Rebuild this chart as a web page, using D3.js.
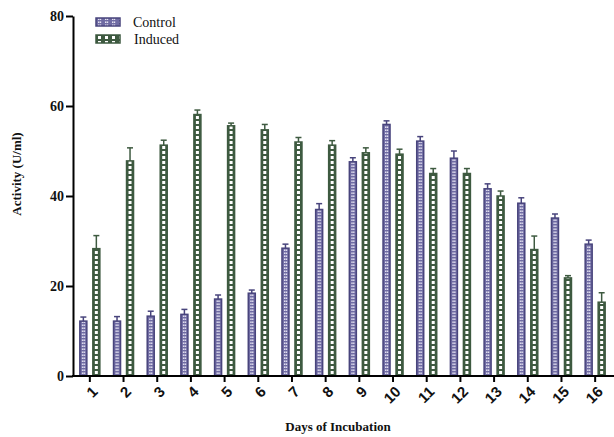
<!DOCTYPE html>
<html lang="en">
<head>
  <meta charset="UTF-8">
  <title>Activity by day of incubation</title>
  <script src="https://d3js.org/d3.v7.min.js"></script>
  <style>
    body { margin: 0; background: #fff; }
    .tick-x text { font-family: "Liberation Sans", Arial, sans-serif; font-size: 15px; font-weight: bold; fill: #111; }
    .tick-y text { font-family: "Liberation Serif", "Times New Roman", serif; font-size: 14px; font-weight: bold; fill: #111; }
    .title { font-family: "Liberation Serif", "Times New Roman", serif; font-size: 13px; font-weight: bold; fill: #111; }
    .legend text { font-family: "Liberation Serif", "Times New Roman", serif; font-size: 14px; fill: #111; }
  </style>
</head>
<body>
<div id="chart"></div>
<script>
// data
var days = ["1","2","3","4","5","6","7","8","9","10","11","12","13","14","15","16"];
var series = ["Control", "Induced"];
var controlValues = [12.2, 12.2, 13.3, 13.7, 17.1, 18.4, 28.4, 37.0, 47.6, 55.9, 52.2, 48.4, 41.6, 38.4, 35.1, 29.3];
var controlErr    = [0.9, 1.0, 1.1, 1.1, 0.9, 0.7, 0.9, 1.3, 0.9, 0.8, 1.0, 1.6, 1.1, 1.2, 0.9, 0.9];
var inducedValues = [28.3, 47.8, 51.3, 58.1, 55.6, 54.7, 52.0, 51.3, 49.6, 49.3, 45.0, 45.0, 40.0, 28.1, 21.8, 16.4];
var inducedErr    = [2.9, 2.9, 1.1, 1.0, 0.6, 1.2, 1.0, 1.0, 1.1, 1.1, 1.1, 1.1, 1.1, 3.0, 0.5, 2.1];
var yTicks = [0, 20, 40, 60, 80];

var width = 614, height = 437;
var plotLeft = 73, plotRight = 612, plotTop = 16, plotBottom = 376;
var barW = 7;

var colors = { Control: "#48447c", Induced: "#3e5a40" };

// build rows for drawing
var rows = days.map(function(d, i) {
  return {
    day: d,
    bars: [
      { key: "Control", value: controlValues[i], err: controlErr[i] },
      { key: "Induced", value: inducedValues[i], err: inducedErr[i] }
    ]
  };
});

var svg = d3.select("#chart").append("svg")
  .attr("width", width)
  .attr("height", height);

// fill patterns for the two series
var defs = svg.append("defs");
var pc = defs.append("pattern")
  .attr("id", "pat-Control")
  .attr("patternUnits", "userSpaceOnUse")
  .attr("width", barW).attr("height", 3);
pc.append("rect").attr("width", barW).attr("height", 3).attr("fill", "#6f6ba3");
pc.append("rect").attr("x", 2).attr("y", 0.5).attr("width", 1.4).attr("height", 1.4).attr("fill", "#f2f0fb");
pc.append("rect").attr("x", 3.8).attr("y", 0.5).attr("width", 1.4).attr("height", 1.4).attr("fill", "#f2f0fb");

var pi = defs.append("pattern")
  .attr("id", "pat-Induced")
  .attr("patternUnits", "userSpaceOnUse")
  .attr("width", barW).attr("height", 5);
pi.append("rect").attr("width", barW).attr("height", 5).attr("fill", colors.Induced);
pi.append("rect").attr("x", 2).attr("y", 1).attr("width", 3).attr("height", 3).attr("fill", "#ffffff");

// scales
var x0 = d3.scaleBand().domain(days).range([plotLeft, plotRight]).padding(0);
var bw = x0.bandwidth();
var x1 = d3.scaleBand().domain(series)
  .range([bw / 2 - 10, bw / 2 + 10])
  .paddingInner(6 / 13).paddingOuter(0);
var y = d3.scaleLinear().domain([0, 80]).range([plotBottom, plotTop]);

// bars
var dayG = svg.append("g").selectAll("g")
  .data(rows).enter().append("g")
  .attr("transform", function(d) { return "translate(" + x0(d.day) + ",0)"; });

var barG = dayG.selectAll("g")
  .data(function(d) { return d.bars; }).enter().append("g")
  .attr("transform", function(d) { return "translate(" + x1(d.key) + ",0)"; });

barG.append("rect")
  .attr("x", 0)
  .attr("y", function(d) { return y(d.value); })
  .attr("width", x1.bandwidth())
  .attr("height", function(d) { return y(0) - y(d.value); })
  .attr("fill", function(d) { return "url(#pat-" + d.key + ")"; })
  .attr("stroke", function(d) { return colors[d.key]; })
  .attr("stroke-width", 1.5);

// error bars (upper whisker only)
barG.append("line")
  .attr("x1", x1.bandwidth() / 2).attr("x2", x1.bandwidth() / 2)
  .attr("y1", function(d) { return y(d.value); })
  .attr("y2", function(d) { return y(d.value + d.err); })
  .attr("stroke", function(d) { return colors[d.key]; })
  .attr("stroke-width", 1.5);
barG.append("line")
  .attr("x1", x1.bandwidth() / 2 - 3).attr("x2", x1.bandwidth() / 2 + 3)
  .attr("y1", function(d) { return y(d.value + d.err); })
  .attr("y2", function(d) { return y(d.value + d.err); })
  .attr("stroke", function(d) { return colors[d.key]; })
  .attr("stroke-width", 1.5);

// y axis
var yAxis = svg.append("g")
  .attr("class", "tick-y")
  .attr("transform", "translate(" + plotLeft + ",0)")
  .call(d3.axisLeft(y).tickValues(yTicks).tickSize(7).tickPadding(2).tickSizeOuter(0));
yAxis.select(".domain").attr("stroke", "#000").attr("stroke-width", 2);
yAxis.selectAll(".tick line").attr("stroke", "#000").attr("stroke-width", 2);

// x axis
var xAxis = svg.append("g")
  .attr("class", "tick-x")
  .attr("transform", "translate(0," + plotBottom + ")")
  .call(d3.axisBottom(x0).tickSize(6).tickSizeOuter(0));
xAxis.select(".domain").attr("stroke", "#000").attr("stroke-width", 2)
  .attr("d", "M" + (plotLeft - 1) + ",0H" + width);
xAxis.selectAll(".tick line").attr("stroke", "#000").attr("stroke-width", 2);
xAxis.selectAll(".tick text")
  .attr("text-anchor", "end")
  .attr("dy", "0.35em")
  .attr("transform", "translate(5,13) rotate(-45)")
  .attr("x", 0).attr("y", 0);

// axis titles
svg.append("text")
  .attr("class", "title")
  .attr("text-anchor", "middle")
  .attr("transform", "translate(21,174) rotate(-90)")
  .text("Activity (U/ml)");
svg.append("text")
  .attr("class", "title")
  .attr("text-anchor", "middle")
  .attr("x", 338).attr("y", 431)
  .text("Days of Incubation");

// legend
var legend = svg.append("g").attr("class", "legend")
  .selectAll("g").data(series).enter().append("g")
  .attr("transform", function(d, i) { return "translate(96," + (18 + i * 17) + ")"; });
legend.append("rect")
  .attr("width", 24).attr("height", 8)
  .attr("fill", function(d) { return "url(#pat-" + d + ")"; })
  .attr("stroke", function(d) { return colors[d]; })
  .attr("stroke-width", 1.5);
legend.append("text")
  .attr("x", function(d, i) { return 37 + i; })
  .attr("y", 9)
  .text(function(d) { return d; });
</script>
</body>
</html>
